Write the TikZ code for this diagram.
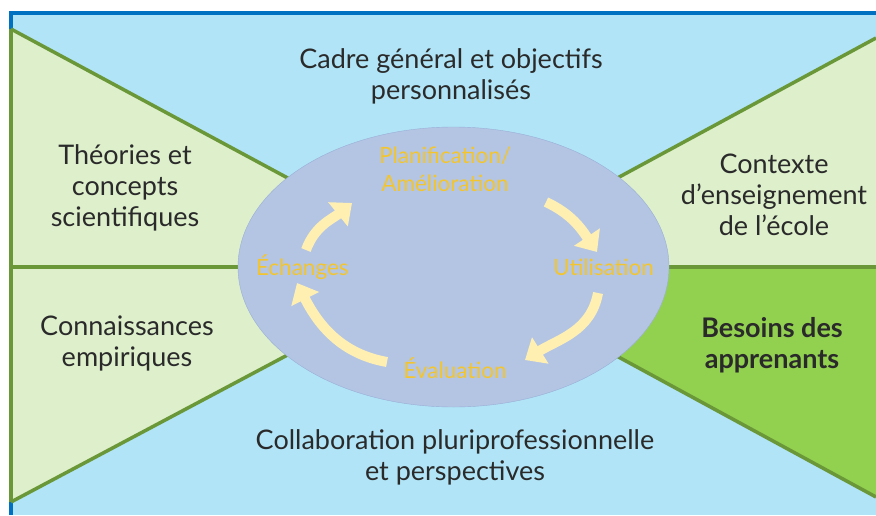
\documentclass[tikz,border=0pt]{standalone}
\usepackage{fontspec}
\setmainfont{Lato}
\usetikzlibrary{arrows.meta,positioning,shapes.geometric}
\definecolor{sky}{HTML}{B0E4F6}
\definecolor{frame-blue}{HTML}{0070C0}
\definecolor{pale-green}{HTML}{DDEFCB}
\definecolor{deep-green}{HTML}{92D050}
\definecolor{edge-green}{HTML}{6A9737}
\definecolor{lilac}{HTML}{B4C5E4}
\definecolor{lilac-edge}{HTML}{9AAED6}
\definecolor{gold}{HTML}{F2C530}
\definecolor{cream}{HTML}{FFF0B2}
\definecolor{ink}{HTML}{2A2A2A}

\begin{document}
\begin{tikzpicture}[x=1pt, y=-1pt,
    every node/.style={align=center, text=ink, inner sep=0pt, font=\fontsize{27}{31}\selectfont},
    cycle-step/.style={text=gold, font=\fontsize{22.5}{28}\selectfont},
    cycle-arrow/.style={draw=cream, line width=10pt, -{Triangle[length=18pt, width=30pt]}},
    green-edge/.style={draw=edge-green, line width=3.5pt}]
            \useasboundingbox (0,0) rectangle (876,515);
            \fill[sky] (11,13) rectangle (876,515);
            \draw[frame-blue, line width=4pt] (11,515) -- (11,13) -- (876,13);
            % bow tie
            \coordinate (hub) at (453,267);
            \coordinate (nw) at (11,29);
            \coordinate (w) at (11,267);
            \coordinate (sw) at (11,502);
            \coordinate (ne) at (876,38);
            \coordinate (e) at (876,267);
            \coordinate (se) at (876,497);
            \fill[pale-green] (nw) -- (hub) -- (sw) -- cycle;
            \fill[pale-green] (ne) -- (hub) -- (e) -- cycle;
            \fill[deep-green] (e) -- (hub) -- (se) -- cycle;
            \draw[green-edge] (nw) -- (hub) -- (sw);
            \draw[green-edge] (ne) -- (hub) -- (se);
            \draw[green-edge] (nw) -- (sw);
            \draw[green-edge] (w) -- (e);
            % cycle
            \node[ellipse, draw=lilac-edge, fill=lilac, minimum width=431pt, minimum height=280pt] (cycle) at (453.5,267) {};
            \node[cycle-step] (plan) at (445,169) {Planification/\\Amélioration};
            \node[cycle-step, left=15pt of cycle.east] (util) {Utilisation};
            \node[cycle-step] (eval) at (455,368) {Évaluation};
            \node[cycle-step, right=18pt of cycle.west] (echg) {Échanges};
            \coordinate (plan-out) at (546,202);
            \coordinate (util-in) at (597,252);
            \coordinate (util-out) at (598,293);
            \coordinate (eval-in) at (525,360);
            \coordinate (eval-out) at (387,362);
            \coordinate (echg-in) at (297,283);
            \coordinate (echg-out) at (306,250);
            \coordinate (plan-in) at (352,203);
            \draw[cycle-arrow] (plan-out) to[out=335, in=124] (util-in);
            \draw[cycle-arrow] (util-out) to[out=260, in=32] (eval-in);
            \draw[cycle-arrow] (eval-out) to[out=170, in=297] (echg-in);
            \draw[cycle-arrow] (echg-out) to[out=70, in=219] (plan-in);
            % outer labels
            \node (cadre) at (451,76) {Cadre général et objectifs\\personnalisés};
            \node (theories) at (125,188) {Théories et\\concepts\\scientifiques};
            \node (connais) at (127,343) {Connaissances\\empiriques};
            \node (contexte) at (774,195) {Contexte\\d’enseignement\\de l’école};
            \node[font=\fontsize{27}{31}\selectfont\bfseries] (besoins) at (772,345) {Besoins des\\apprenants};
            \node (collab) at (455,457) {Collaboration pluriprofessionnelle\\et perspectives};
        \end{tikzpicture}
\end{document}
